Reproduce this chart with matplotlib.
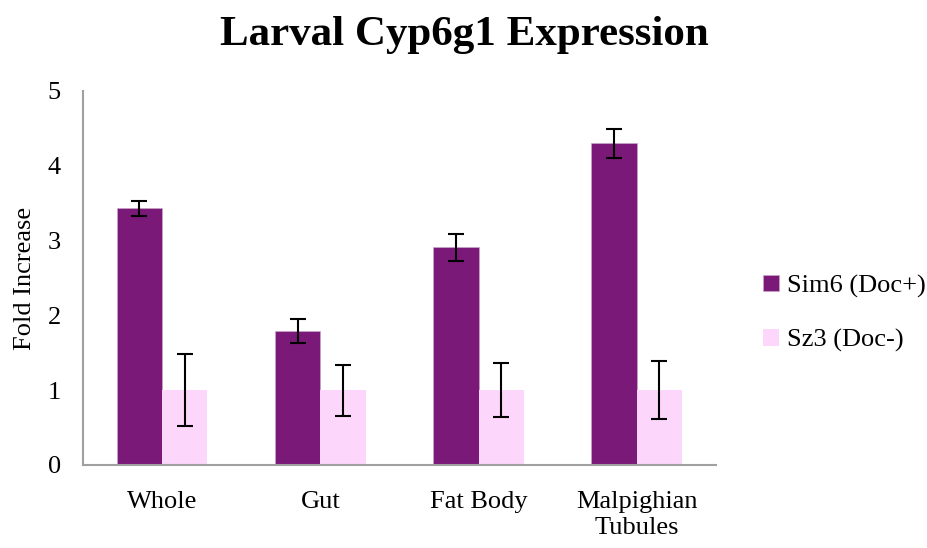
import matplotlib.pyplot as plt
import numpy as np

plt.rcParams['font.family'] = ['Liberation Serif', 'DejaVu Serif']

tissues = ['Whole', 'Gut', 'Fat Body', 'Malpighian\nTubules']
sim6 = [3.43, 1.79, 2.91, 4.30]
sim6_err = [0.10, 0.155, 0.18, 0.19]
sz3 = [1.0, 1.0, 1.0, 1.0]
sz3_err = [0.48, 0.34, 0.36, 0.39]

fig = plt.figure(figsize=(9.28, 5.48), dpi=100)
ax = fig.add_axes([0.0894, 0.1515, 0.682, 0.6825])

x = np.arange(len(tissues))
w = 0.286
ekw = dict(ecolor='black', elinewidth=1.5, capsize=5.5, capthick=1.5)
ax.bar(x - w / 2, sim6, w, yerr=sim6_err, color='#7A1977', label='Sim6 (Doc+)',
       error_kw=ekw, edgecolor='#C9A6C8', linewidth=0.5)
ax.bar(x + w / 2, sz3, w, yerr=sz3_err, color='#FDD6FC', label='Sz3 (Doc-)',
       error_kw=ekw)

ax.set_xlim(-0.5, 3.5)
ax.set_ylim(0, 5)
ax.set_yticks(range(6))
ax.set_xticks(x)
ax.set_xticklabels(tissues, fontsize=19, linespacing=1.2)
ax.tick_params(axis='y', length=0, pad=16, labelsize=19)
ax.tick_params(axis='x', length=0, pad=19)
for s in ['top', 'right']:
    ax.spines[s].set_visible(False)
for s in ['left', 'bottom']:
    ax.spines[s].set_color('#A0A0A0')
    ax.spines[s].set_linewidth(1.5)

ax.set_ylabel('Fold Increase', fontsize=19, labelpad=8)
fig.suptitle('Larval Cyp6g1 Expression', fontsize=31, fontweight='bold', y=0.97)

fig.legend(loc='center left', bbox_to_anchor=(0.797, 0.428), frameon=False,
           fontsize=19, handlelength=0.6, handleheight=0.6,
           handletextpad=0.3, labelspacing=1.2)

fig.savefig('out.png', dpi=100)
